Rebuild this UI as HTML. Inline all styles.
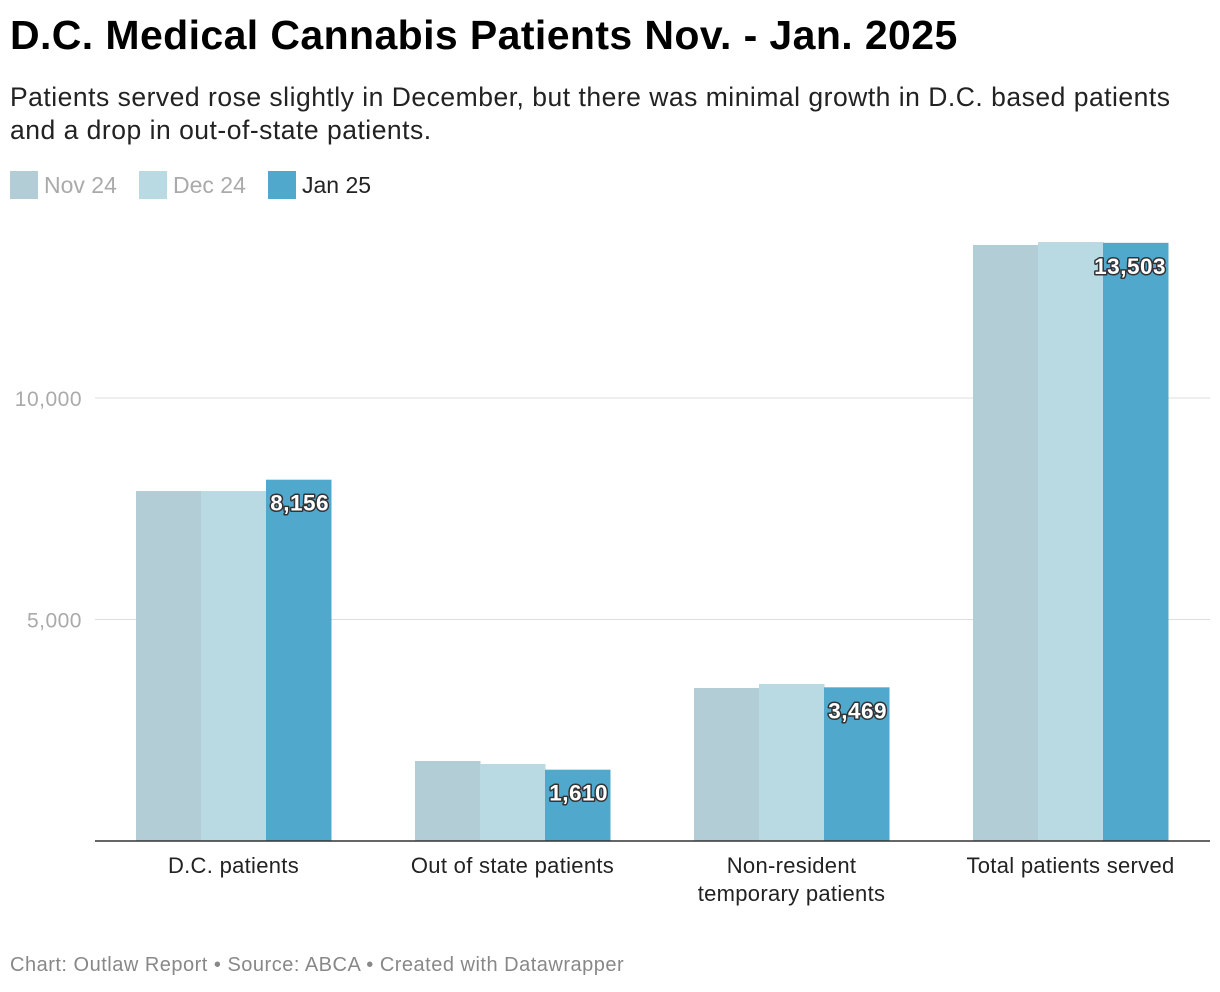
<!DOCTYPE html>
<html><head><meta charset="utf-8"><style>
body{margin:0;background:#fff;font-family:"Liberation Sans",Arial,sans-serif;}
#wrap{position:relative;width:1220px;height:992px;overflow:hidden}
h1{position:absolute;left:10px;top:12px;margin:0;font-size:41px;font-weight:bold;color:#000;letter-spacing:0.4px}
.sub{position:absolute;left:10px;top:81px;font-size:26.5px;line-height:33px;color:#222;width:1190px;letter-spacing:0.5px}
.leg{position:absolute;top:171px;display:flex;align-items:center;font-size:23px}
.sw{width:28px;height:28px;margin-right:6px}
.foot{position:absolute;left:10px;top:954px;font-size:20px;color:#888;letter-spacing:0.5px}
</style></head><body>
<div id="wrap">
<h1>D.C. Medical Cannabis Patients Nov. - Jan. 2025</h1>
<div class="sub">Patients served rose slightly in December, but there was minimal growth in D.C. based patients and a drop in out-of-state patients.</div>
<div class="leg" style="left:10px;color:#aaa"><div class="sw" style="background:#b3cdd7"></div>Nov 24</div>
<div class="leg" style="left:139px;color:#aaa"><div class="sw" style="background:#badae3"></div>Dec 24</div>
<div class="leg" style="left:268px;color:#222"><div class="sw" style="background:#50a9cc"></div>Jan 25</div>
<svg id="chart" width="1220" height="992" style="position:absolute;left:0;top:0"></svg>
<div class="foot">Chart: Outlaw Report • Source: ABCA • Created with Datawrapper</div>
</div>
<script>
const categories=["D.C. patients","Out of state patients","Non-resident|temporary patients","Total patients served"];
const nov24=[7900,1806,3454,13454];
const dec24=[7900,1738,3544,13521];
const jan25=[8156,1610,3469,13503];
const ticks=[5000,10000];
const tickLabels=["5,000","10,000"];
const NS="http://www.w3.org/2000/svg";
const svg=document.getElementById('chart');
const y0=841,k=0.0443;
const yS=v=>y0-v*k;
const gx=i=>136+i*279;
const bw=65;
function mk(t,a){const e=document.createElementNS(NS,t);for(const n in a)e.setAttribute(n,a[n]);svg.appendChild(e);return e;}
ticks.forEach((t,i)=>{
 const l=mk('line',{x1:95,x2:1210,y1:yS(t),y2:yS(t),stroke:'#ddd','stroke-width':1});
 
 
 const tx=mk('text',{x:82,y:yS(t)+8,'text-anchor':'end','font-size':21,fill:'#aaa','letter-spacing':0.5});
 tx.textContent=tickLabels[i];
 
 
});
const series=[[nov24,'#b3cdd7','nov'],[dec24,'#badae3','dec'],[jan25,'#50a9cc','jan']];
categories.forEach((c,i)=>{
 series.forEach((s,j)=>{
  const v=s[0][i];
  const r=mk('rect',{x:gx(i)+j*bw,y:yS(v),width:bw+0.5,height:v*k,fill:s[1]});
  
  
 });
 const v=jan25[i];
 const lb=mk('text',{x:gx(i)+3*bw-2,y:yS(v)+31,'text-anchor':'end','font-size':22.5,'font-weight':'bold',fill:'#fff',stroke:'#333','stroke-width':3,'paint-order':'stroke','stroke-linejoin':'round','letter-spacing':0.5});
 lb.textContent=v.toLocaleString('en-US');
 
 
 c.split('|').forEach((p,m)=>{
  const t=mk('text',{x:gx(i)+1.5*bw,y:873+m*28,'text-anchor':'middle','font-size':22,fill:'#222','letter-spacing':0.3});
  t.textContent=p;
  
  
 });
});
const ax=mk('line',{x1:95,x2:1210,y1:y0,y2:y0,stroke:'#333','stroke-width':1.5});


</script>
</body></html>
